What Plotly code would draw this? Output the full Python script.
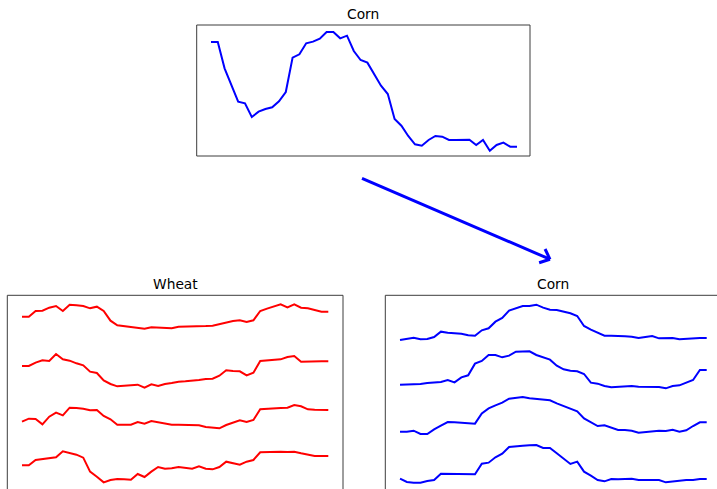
import numpy as np
import plotly.graph_objects as go

W, H = 717, 489

# ---- data ----
weeks = list(range(46))

corn_top = [33.4,33.4,25.5,20.5,15.5,15.0,10.9,12.5,13.3,13.8,15.6,18.4,28.7,29.7,33.0,33.5,34.4,36.4,36.4,34.5,
            35.3,30.7,28.0,27.2,23.8,20.3,17.8,10.3,8.3,5.2,2.7,2.3,4.0,5.2,5.0,4.0,4.0,4.1,4.1,2.5,
            4.0,0.8,2.5,3.2,2.0,2.0]

wheat_1 = [52.0,52.0,53.7,53.8,54.7,55.2,53.7,55.6,55.4,55.2,54.5,55.0,53.7,50.8,49.4,49.2,48.9,48.6,48.4,48.8,
           48.7,48.8,48.5,49.0,49.0,49.0,49.1,49.2,49.3,49.8,50.4,50.7,50.9,50.4,50.9,53.7,54.4,55.0,55.7,54.8,
           55.7,54.7,54.5,54.0,53.5,53.5]
wheat_2 = [37.2,37.2,38.2,38.9,38.7,40.8,39.2,38.8,38.0,37.4,35.5,35.1,32.9,31.8,31.1,31.2,31.4,31.6,30.7,31.7,
           31.2,31.8,32.1,32.5,32.6,32.7,33.0,33.3,33.4,34.3,35.9,35.7,35.6,34.4,35.2,38.7,38.9,39.0,39.2,39.9,
           40.2,38.5,38.6,38.6,38.6,38.6]
wheat_3 = [20.5,21.4,21.3,19.7,22.0,23.2,22.4,24.7,24.6,24.4,23.9,24.0,22.2,21.2,19.6,19.6,19.6,20.4,19.9,20.7,
           20.3,19.9,19.6,19.6,19.6,19.6,19.4,18.9,18.6,18.5,19.5,20.2,20.9,20.4,21.0,24.2,24.4,24.5,24.6,24.7,
           25.5,25.1,24.2,24.1,24.0,24.0]
wheat_4 = [7.4,7.4,9.0,9.3,9.6,9.8,11.6,11.0,10.6,9.7,5.5,4.0,2.3,3.0,3.3,3.2,3.1,4.8,3.9,5.5,
           6.9,6.4,6.5,6.9,6.6,6.4,7.1,6.4,6.2,6.9,8.5,8.1,7.6,8.5,9.0,11.3,11.4,11.5,11.5,11.4,
           11.5,11.0,10.6,10.2,10.2,10.2]

corn_1 = [45.0,45.4,45.7,45.2,45.3,45.9,47.5,47.2,47.0,46.9,46.4,46.3,47.9,48.5,50.5,51.6,53.8,54.5,55.2,55.2,
          55.6,54.7,54.1,54.0,53.5,53.0,52.2,49.2,48.1,47.3,46.3,46.3,46.1,46.1,46.0,45.6,45.9,46.2,45.5,45.5,
          45.6,45.2,45.4,45.5,45.6,45.6]
corn_2 = [31.6,31.6,31.6,31.8,32.1,32.3,32.4,33.0,32.3,33.8,34.4,37.9,38.7,40.5,40.5,39.8,40.3,41.5,41.6,41.6,
          40.5,39.7,39.1,37.3,36.2,35.8,35.6,34.8,32.2,31.9,31.2,30.8,30.9,31.0,31.2,31.0,30.9,30.9,30.9,30.5,
          31.2,31.4,32.2,33.0,36.0,36.0]
corn_3 = [17.5,17.5,17.8,16.8,16.8,18.2,19.3,20.4,20.3,20.2,20.0,19.9,23.0,24.5,25.4,26.2,27.4,27.7,27.9,27.5,
          27.3,27.1,26.9,26.0,25.2,24.4,23.6,21.5,20.3,19.2,19.4,18.7,18.0,18.0,17.8,17.2,17.4,17.6,17.8,17.7,
          18.1,17.5,17.9,19.2,20.3,20.3]
corn_4 = [3.4,2.4,2.2,2.2,2.7,3.0,4.9,4.9,4.9,4.9,4.8,4.7,7.9,8.2,9.8,10.9,12.9,13.2,13.3,13.4,
          13.5,12.6,12.6,11.0,9.4,7.8,8.5,5.5,4.3,3.0,2.6,3.3,3.2,3.3,3.4,3.0,3.0,3.0,3.0,2.3,
          2.6,2.8,3.0,3.0,3.3,3.3]

titles = ["Corn", "Wheat", "Corn"]

# ---- layout helpers (pixel -> paper) ----
def px(x):
    return x / W

def py(y):
    return 1 - y / H

BLUE = "#0000ff"
RED = "#ff0000"
EDGE = "#3c3c3c"
FONT = "DejaVu Sans"

fig = go.Figure()

fig.add_trace(go.Scatter(x=weeks, y=corn_top, mode="lines", line=dict(color=BLUE, width=2),
                         xaxis="x", yaxis="y", showlegend=False, hoverinfo="skip"))
for s in [wheat_1, wheat_2, wheat_3, wheat_4]:
    fig.add_trace(go.Scatter(x=weeks, y=s, mode="lines", line=dict(color=RED, width=2),
                             xaxis="x2", yaxis="y2", showlegend=False, hoverinfo="skip"))
for s in [corn_1, corn_2, corn_3, corn_4]:
    fig.add_trace(go.Scatter(x=weeks, y=s, mode="lines", line=dict(color=BLUE, width=2),
                             xaxis="x3", yaxis="y3", showlegend=False, hoverinfo="skip"))

hidden = dict(showgrid=False, zeroline=False, showticklabels=False, ticks="", showline=False, fixedrange=True)

# panel boxes in pixels: (left, top, right, bottom)
top_box = (196.7, 25.0, 530.0, 156.0)
left_box = (7.3, 295.3, 343.0, 489.0)
right_box = (385.3, 295.3, 717.0, 489.0)

fig.update_layout(
    width=W, height=H,
    margin=dict(l=0, r=0, t=0, b=0),
    paper_bgcolor="white", plot_bgcolor="white",
    xaxis=dict(domain=[px(top_box[0]), px(top_box[2])], range=[-2.10, 46.91], anchor="y", **hidden),
    yaxis=dict(domain=[py(top_box[3]), py(top_box[1])], range=[-0.80, 38.5], anchor="x", **hidden),
    xaxis2=dict(domain=[px(left_box[0]), px(left_box[2])], range=[-2.16, 47.16], anchor="y2", **hidden),
    yaxis2=dict(domain=[0, py(left_box[1])], range=[0.3, 58.41], anchor="x2", **hidden),
    xaxis3=dict(domain=[px(right_box[0]), 1], range=[-2.16, 46.51], anchor="y3", **hidden),
    yaxis3=dict(domain=[0, py(right_box[1])], range=[0.3, 58.41], anchor="x3", **hidden),
)

shapes = []
def seg(x0, y0, x1, y1, color=EDGE, width=1):
    shapes.append(dict(type="line", xref="paper", yref="paper",
                       x0=px(x0), y0=py(y0), x1=px(x1), y1=py(y1),
                       line=dict(color=color, width=width)))

# top panel: full box
l, t, r, b = top_box
seg(l, t, r, t); seg(l, b, r, b); seg(l, t, l, b); seg(r, t, r, b)
# bottom-left: top, left, right (bottom cut off)
l, t, r, b = left_box
seg(l, t, r, t); seg(l, t, l, b + 2); seg(r, t, r, b + 2)
# bottom-right: top, left (right and bottom cut off)
l, t, r, b = right_box
seg(l, t, r + 2, t); seg(l, t, l, b + 2)

# arrow from top panel towards bottom-right panel
start = np.array([362.0, 178.3])
tip = np.array([550.0, 259.3])
d = (tip - start) / np.linalg.norm(tip - start)
n = np.array([-d[1], d[0]])
seg(*start, *(tip - d * 0.8), color=BLUE, width=3)
for sgn in (1, -1):
    arm = tip - d * 8.6 + sgn * n * 7.5
    seg(*arm, *tip, color=BLUE, width=3)

fig.update_layout(shapes=shapes)

# titles
for text, cx, cy in [(titles[0], (top_box[0] + top_box[2]) / 2, 14.3),
                     (titles[1], (left_box[0] + left_box[2]) / 2, 284.3),
                     (titles[2], (right_box[0] + 721.3) / 2, 284.3)]:
    fig.add_annotation(text=text, x=px(cx), y=py(cy), xref="paper", yref="paper",
                       xanchor="center", yanchor="middle", showarrow=False,
                       font=dict(family=FONT, size=13.8, color="black"))

fig.write_html("out.html", config={"displayModeBar": False},
               post_script="document.body.style.margin='0';document.body.style.overflow='hidden';")
